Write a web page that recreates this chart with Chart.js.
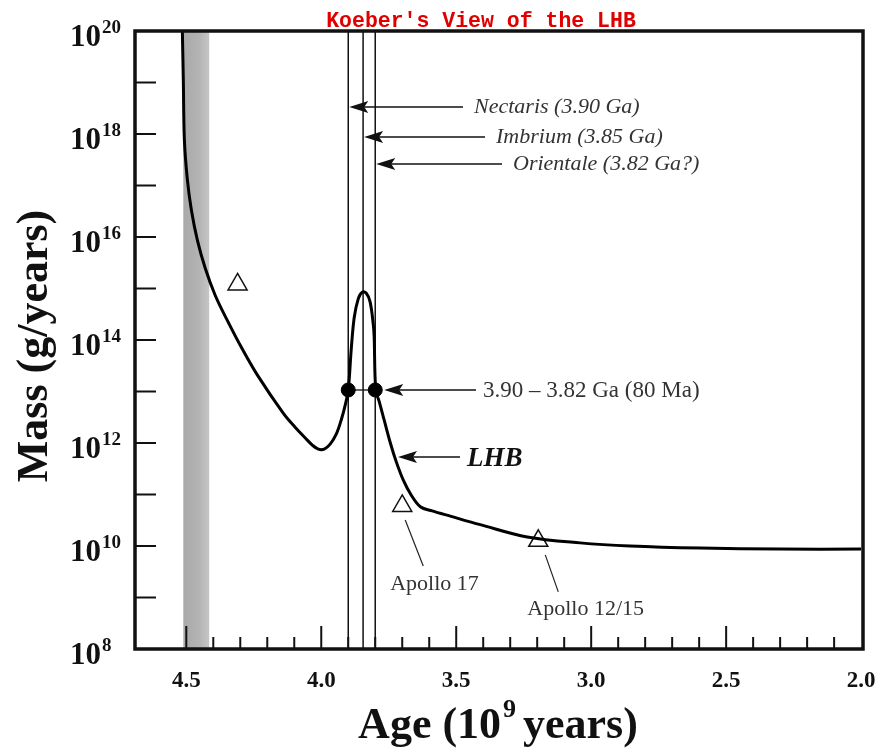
<!DOCTYPE html>
<html>
<head>
<meta charset="utf-8">
<title>Koeber's View of the LHB</title>
<script src="https://cdn.jsdelivr.net/npm/chart.js"></script>
<style>
  html, body { margin: 0; padding: 0; background: #fff; }
  #wrap { width: 882px; height: 749px; }
</style>
</head>
<body>
<div id="wrap"><canvas id="lhb"></canvas></div>
<script>
// impact mass flux curve (age in Ga, mass in g/yr)
const curveAge = [4.515, 4.511, 4.507, 4.496, 4.481, 4.459, 4.430, 4.393, 4.348, 4.296,
  4.237, 4.141, 4.096, 4.059, 4.033, 4.011, 3.989, 3.967, 3.944, 3.926, 3.911,
  3.900, 3.889, 3.878, 3.863, 3.848, 3.833, 3.819, 3.807, 3.804, 3.798, 3.785, 3.767,
  3.744, 3.722, 3.696, 3.667, 3.633, 3.589, 3.522, 3.411, 3.237, 3.041, 2.856, 2.596,
  2.30, 2.0];
const curveMass = [1.3e20, 1.1e19, 7.6e17, 1.3e17, 3.3e16, 8.7e15, 2.5e15, 7.4e14, 2.4e14, 7.2e13,
  2.1e13, 3.8e12, 2.0e12, 1.25e12, 9.1e11, 7.6e11, 7.6e11, 9.5e11, 1.5e12, 2.8e12, 5.5e12,
  1.07e13, 6.5e13, 2.7e14, 6.3e14, 8.5e14, 8.1e14, 5.5e14, 1.95e14, 1.15e14, 1.07e13, 6.3e12, 2.8e12,
  1.0e12, 4.3e11, 1.9e11, 9.8e10, 5.8e10, 4.8e10, 3.8e10, 2.6e10, 1.5e10, 1.15e10, 1.0e10, 9.1e9,
  8.7e9, 8.7e9];

// basin ages (lines) and their labels
const basinNames = ['Nectaris (3.90 Ga)', 'Imbrium (3.85 Ga)', 'Orientale (3.82 Ga?)'];
const basinAge = [3.90, 3.845, 3.80];

// 80 Ma window dots
const peakAge = [3.90, 3.80];
const peakMass = [1.07e13, 1.07e13];

// sample points (open triangles)
const sampleNames = ['', 'Apollo 17', 'Apollo 12/15'];
const sampleAge = [4.31, 3.70, 3.196];
const sampleMass = [1.2e15, 6.0e10, 1.26e10];

// shaded band (age of moon formation)
const bandAge = [4.511, 4.415];

const xTickLabels = ['4.5', '4.0', '3.5', '3.0', '2.5', '2.0'];
const yTickExp = [20, 18, 16, 14, 12, 10, 8];

const SERIF = '"Liberation Serif", "Times New Roman", serif';

const drawArrow = (ctx, tail, tip, y) => {
  ctx.save();
  ctx.strokeStyle = '#111';
  ctx.fillStyle = '#111';
  ctx.lineWidth = 1.3;
  ctx.beginPath();
  ctx.moveTo(tail, y);
  ctx.lineTo(tip + 10, y);
  ctx.stroke();
  ctx.beginPath();
  ctx.moveTo(tip, y);
  ctx.lineTo(tip + 19, y - 6);
  ctx.lineTo(tip + 15, y);
  ctx.lineTo(tip + 19, y + 6);
  ctx.closePath();
  ctx.fill();
  ctx.restore();
};

const decor = {
  id: 'decor',
  beforeDraw(chart) {
    const ctx = chart.ctx;
    ctx.save();
    ctx.fillStyle = '#ffffff';
    ctx.fillRect(0, 0, chart.width, chart.height);
    ctx.restore();
  },
  beforeDatasetsDraw(chart) {
    const ctx = chart.ctx;
    const { top, bottom } = chart.chartArea;
    const x = chart.scales.x;
    const y = chart.scales.y;
    ctx.save();

    // gray band
    const b0 = x.getPixelForValue(bandAge[0]);
    const b1 = x.getPixelForValue(bandAge[1]);
    const grad = ctx.createLinearGradient(b0, 0, b1, 0);
    grad.addColorStop(0, '#a9a9a9');
    grad.addColorStop(0.6, '#b3b3b3');
    grad.addColorStop(1, '#c6c6c6');
    ctx.fillStyle = grad;
    ctx.fillRect(b0, top, b1 - b0, bottom - top);

    // basin lines
    ctx.strokeStyle = '#111';
    ctx.lineWidth = 1.5;
    basinAge.forEach((a) => {
      const px = x.getPixelForValue(a);
      ctx.beginPath();
      ctx.moveTo(px, top);
      ctx.lineTo(px, bottom);
      ctx.stroke();
    });

    // bar joining the two dots
    const py = y.getPixelForValue(peakMass[0]);
    ctx.lineWidth = 1.3;
    ctx.beginPath();
    ctx.moveTo(x.getPixelForValue(peakAge[0]), py);
    ctx.lineTo(x.getPixelForValue(peakAge[1]), py);
    ctx.stroke();
    ctx.restore();
  },
  afterDatasetsDraw(chart) {
    const ctx = chart.ctx;
    const { left, right, top, bottom } = chart.chartArea;
    const x = chart.scales.x;
    const y = chart.scales.y;
    ctx.save();

    // ticks, pointing inward
    ctx.strokeStyle = '#111';
    ctx.lineWidth = 2;
    for (let i = 21; i <= 45; i++) {
      const px = x.getPixelForValue(i / 10);
      const len = i % 5 === 0 ? 23 : 12;
      ctx.beginPath();
      ctx.moveTo(px, bottom);
      ctx.lineTo(px, bottom - len);
      ctx.stroke();
    }
    for (let e = 9; e <= 19; e++) {
      const py = y.getPixelForValue(Math.pow(10, e));
      ctx.beginPath();
      ctx.moveTo(left, py);
      ctx.lineTo(left + 21, py);
      ctx.stroke();
    }

    // frame
    ctx.lineWidth = 3.5;
    ctx.strokeRect(left, top, right - left, bottom - top);

    // x tick labels
    ctx.fillStyle = '#111';
    ctx.font = 'bold 23px ' + SERIF;
    ctx.textAlign = 'center';
    ctx.textBaseline = 'alphabetic';
    xTickLabels.forEach((t) => {
      ctx.fillText(t, x.getPixelForValue(parseFloat(t)), 687);
    });

    // y tick labels 10^n
    ctx.textAlign = 'left';
    yTickExp.forEach((e) => {
      const py = y.getPixelForValue(Math.pow(10, e));
      ctx.font = 'bold 31px ' + SERIF;
      ctx.fillText('10', 70, py + 15);
      const w = ctx.measureText('10').width;
      ctx.font = 'bold 19px ' + SERIF;
      ctx.fillText(String(e), 70 + w + 1, py + 2);
    });

    // axis titles
    ctx.font = 'bold 44px ' + SERIF;
    const p1 = 'Age (10';
    const p3 = 'years)';
    const w1 = ctx.measureText(p1).width;
    const w3 = ctx.measureText(p3).width;
    ctx.font = 'bold 26px ' + SERIF;
    const w2 = ctx.measureText('9').width;
    const total = w1 + 2 + w2 + 7 + w3;
    let cx = 498 - total / 2;
    ctx.font = 'bold 44px ' + SERIF;
    ctx.fillText(p1, cx, 738);
    cx += w1 + 2;
    ctx.font = 'bold 26px ' + SERIF;
    ctx.fillText('9', cx, 717);
    cx += w2 + 7;
    ctx.font = 'bold 44px ' + SERIF;
    ctx.fillText(p3, cx, 738);

    ctx.save();
    ctx.translate(47, 346);
    ctx.rotate(-Math.PI / 2);
    ctx.textAlign = 'center';
    ctx.fillText('Mass (g/years)', 0, 0);
    ctx.restore();

    // chart title
    ctx.font = 'bold 21.5px "Liberation Mono", "DejaVu Sans Mono", monospace';
    ctx.fillStyle = '#e00000';
    ctx.textAlign = 'center';
    ctx.fillText("Koeber's View of the LHB", 481, 27);

    // basin arrows and labels
    const basinY = [107, 137, 164];
    const basinTail = [463, 485, 502];
    ctx.textAlign = 'left';
    ctx.font = 'italic 22px ' + SERIF;
    basinNames.forEach((name, i) => {
      const px = x.getPixelForValue(basinAge[i]);
      drawArrow(ctx, basinTail[i], px + 1, basinY[i]);
      ctx.fillStyle = '#333';
      ctx.fillText(name, basinTail[i] + 11, basinY[i] + 6);
    });

    // 80 Ma window arrow
    const dy = y.getPixelForValue(peakMass[1]);
    const dx = x.getPixelForValue(peakAge[1]);
    drawArrow(ctx, 476, dx + 9, dy);
    ctx.fillStyle = '#333';
    ctx.font = '23px ' + SERIF;
    ctx.fillText('3.90 \u2013 3.82 Ga (80 Ma)', 483, dy + 7);

    // LHB arrow
    drawArrow(ctx, 460, 398, 457);
    ctx.fillStyle = '#111';
    ctx.font = 'bold italic 27px ' + SERIF;
    ctx.fillText('LHB', 467, 466);

    // Apollo pointers
    const ptr = [null, [3, 14, 21, 60, -12, 84], [7, 14, 20, 51, -11, 74]];
    ctx.font = '22px ' + SERIF;
    sampleNames.forEach((name, i) => {
      if (!name) return;
      const sx = x.getPixelForValue(sampleAge[i]);
      const sy = y.getPixelForValue(sampleMass[i]);
      const p = ptr[i];
      ctx.strokeStyle = '#222';
      ctx.lineWidth = 1.2;
      ctx.beginPath();
      ctx.moveTo(sx + p[0], sy + p[1]);
      ctx.lineTo(sx + p[2], sy + p[3]);
      ctx.stroke();
      ctx.fillStyle = '#333';
      ctx.fillText(name, sx + p[4], sy + p[5]);
    });

    ctx.restore();
  }
};

const toPoints = (xs, ys) => xs.map((a, i) => ({ x: a, y: ys[i] }));

new Chart(document.getElementById('lhb'), {
  type: 'scatter',
  data: {
    datasets: [{
      label: 'mass flux',
      data: toPoints(curveAge, curveMass),
      showLine: true,
      borderColor: '#000',
      borderWidth: 3,
      pointRadius: 0,
      tension: 0.35
    }, {
      label: '80 Ma window',
      data: toPoints(peakAge, peakMass),
      pointRadius: 7,
      pointBackgroundColor: '#000',
      pointBorderColor: '#000'
    }, {
      label: 'samples',
      data: toPoints(sampleAge, sampleMass),
      pointStyle: 'triangle',
      pointRadius: 11,
      pointBackgroundColor: '#fff',
      pointBorderColor: '#111',
      pointBorderWidth: 1.5
    }]
  },
  options: {
    responsive: true,
    maintainAspectRatio: false,
    animation: false,
    layout: {
      padding: { left: 135, top: 31, right: 19, bottom: 100 }
    },
    plugins: {
      legend: { display: false },
      tooltip: { enabled: false }
    },
    scales: {
      x: {
        type: 'linear',
        reverse: true,
        min: 1.993,
        max: 4.69,
        display: false
      },
      y: {
        type: 'logarithmic',
        min: 1e8,
        max: 1e20,
        display: false
      }
    }
  },
  plugins: [decor]
});
</script>
</body>
</html>
